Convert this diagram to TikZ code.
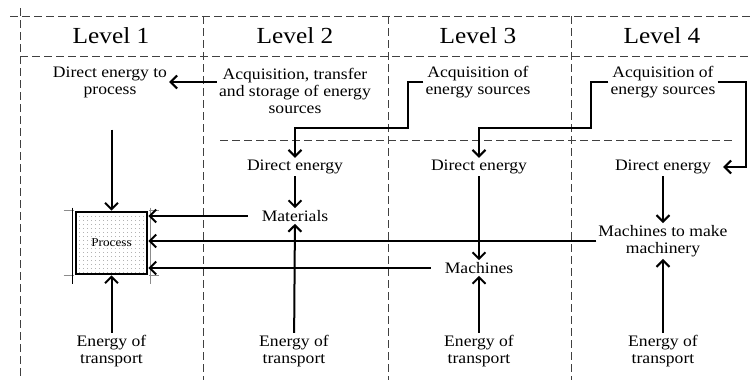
\documentclass[tikz,border=0pt]{standalone}
\usepackage{fontspec}
\setmainfont{Liberation Serif}[FakeStretch=1.1]
\usetikzlibrary{arrows.meta,patterns.meta}

\tikzset{
  sepline/.style={black!75, line width=.7pt, dash pattern=on 8pt off 4pt},
  lvl/.style={font=\fontsize{23}{26}\selectfont},
  txt/.style={align=center, inner sep=2pt, font=\fontsize{16}{17}\selectfont},
  flow/.style={line width=2pt, -{Straight Barb[length=6.5pt,width=13pt]}},
  procbox/.style={draw, line width=2.6pt, minimum width=71pt, minimum height=62pt,
    pattern={Dots[distance=4pt,radius=.45pt]}, pattern color=black!70,
    font=\fontsize{12}{14}\selectfont},
  cropline/.style={black!45, line width=1pt}
}

\begin{document}
\begin{tikzpicture}[x=1pt,y=-1pt]
\fill[white] (0,0) rectangle (752,380);
\useasboundingbox (0,0) rectangle (752,380);

% dashed frame
\draw[sepline] (10,16) -- (752,16);
\draw[sepline] (20,56) -- (752,56);
\draw[sepline] (20,8) -- (20,380);
\foreach \x in {203,388,571}
  \draw[sepline] (\x,16) -- (\x,380);
\draw[sepline] (220,140) -- (735,140);

% level headings
\foreach \x/\n in {111/1,295/2,478/3,662/4}
  \node[lvl] (lv\n) at (\x,36) {Level \n};

% upper row
\node[txt] (dep) at (110,82) {Direct energy to\\process};
\node[txt] (ats) at (295,91) {Acquisition, transfer\\and storage of energy\\sources};
\node[txt] (aes3) at (478,82) {Acquisition of\\energy sources};
\node[txt] (aes4) at (663,82) {Acquisition of\\energy sources};

% direct energy
\node[txt] (de2) at (295,167) {Direct energy};
\node[txt] (de3) at (479,167) {Direct energy};
\node[txt] (de4) at (663,167) {Direct energy};

% middle row
\node[procbox] (proc) at (111.5,243) {Process};
\node[txt] (mat) at (295,216) {Materials};
\node[txt] (mmm) at (663,241) {Machines to make\\machinery};
\node[txt] (mach) at (479,268) {Machines};

% bottom row
\foreach \x/\n in {111.5/1,294/2,479/3,663/4}
  \node[txt] (et\n) at (\x,351) {Energy of\\transport};

% frame marks round the process box
\draw[cropline] ([xshift=-11pt]proc.north west) -- ([xshift=-1pt]proc.north west)
  ([xshift=1pt]proc.north east) -- ([xshift=11pt]proc.north east)
  ([xshift=-11pt]proc.south west) -- ([xshift=-1pt]proc.south west)
  ([xshift=1pt]proc.south east) -- ([xshift=11pt]proc.south east);
\draw[black, line width=.7pt] ([xshift=-2.5pt,yshift=3pt]proc.north west) -- ([xshift=-2.5pt,yshift=-9pt]proc.south west);
\draw[cropline] ([xshift=2pt,yshift=3pt]proc.north east) -- ([xshift=2pt,yshift=-9pt]proc.south east);

% connectors
\coordinate (b3) at (408,128);
\coordinate (b4) at (591,128);
\coordinate (b5) at (746,82);
\draw[flow] (ats.west |- dep.east) -- (dep.east);
\draw[flow] (aes3.west) -| (b3) -| (de2.north);
\draw[flow] (aes4.west) -| (b4) -| (de3.north);
\draw[flow, shorten >=10pt] (aes4.east) -| (b5) |- (de4.east);

\draw[flow, shorten <=30pt] (proc.north |- dep.south) -- (proc.north);
\draw[flow] (et1) -- (proc);
\draw[flow] (de2) -- (mat);
\draw[flow] (et2) -- (mat);
\draw[flow] (de3) -- (mach);
\draw[flow] (et3) -- (mach);
\draw[flow] (de4) -- (mmm);
\draw[flow] (et4) -- (mmm);

\draw[flow, shorten <=12pt] (mat.west) -- (mat.west -| proc.east);
\draw[flow] (mmm.west) -- (mmm.west -| proc.east);
\draw[flow, shorten <=12pt] (mach.west) -- (mach.west -| proc.east);
\end{tikzpicture}
\end{document}
